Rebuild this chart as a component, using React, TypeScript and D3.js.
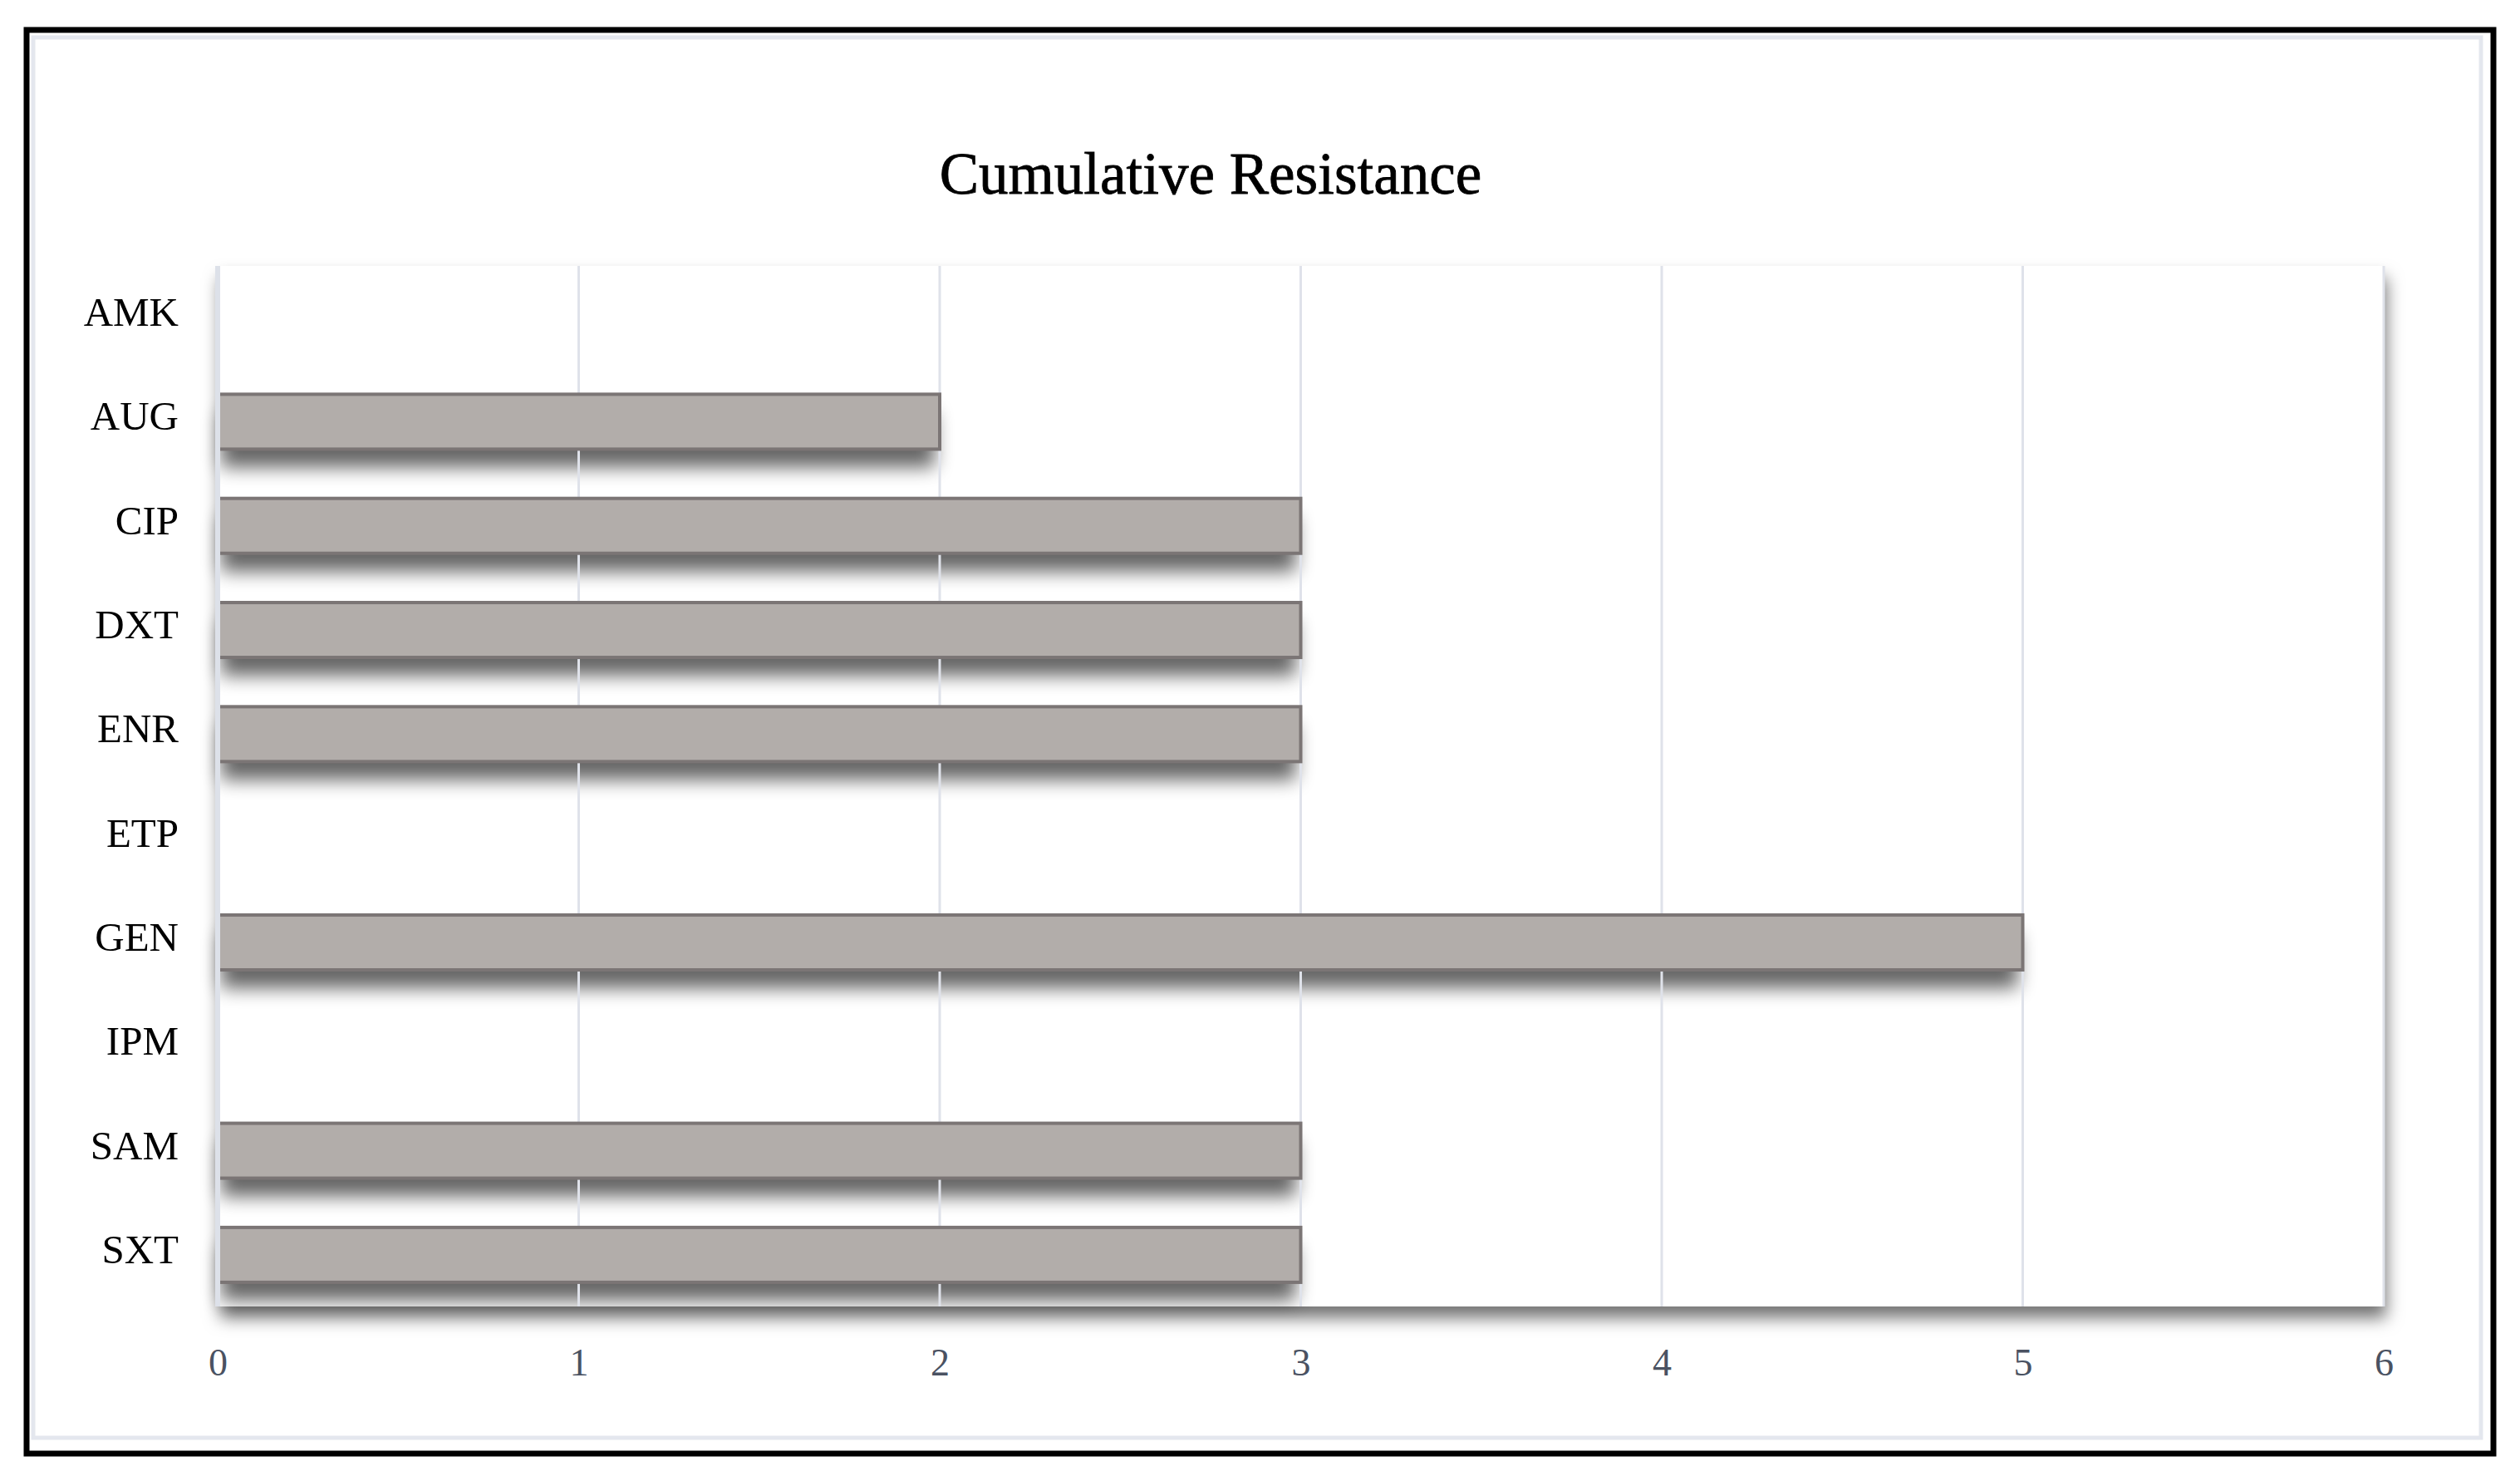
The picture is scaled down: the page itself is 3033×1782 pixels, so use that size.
import * as d3 from "d3";
import { useEffect, useRef } from "react";

const categories = ["AMK", "AUG", "CIP", "DXT", "ENR", "ETP", "GEN", "IPM", "SAM", "SXT"];
const values = [0, 2, 3, 3, 3, 0, 5, 0, 3, 3];
const xTicks = [0, 1, 2, 3, 4, 5, 6];
const title = "Cumulative Resistance";

function App() {
  const ref = useRef<SVGSVGElement>(null);

  useEffect(() => {
    const svg = d3.select(ref.current);
    svg.selectAll("*").remove();

    const W = 3033, H = 1782;
    const left = 262, right = 2869, top = 320, bottom = 1572;

    const x = d3.scaleLinear().domain([0, 6]).range([left, right]);
    const y = d3.scaleBand().domain(categories).range([top, bottom]).paddingInner(0.473).paddingOuter(0.232);

    const defs = svg.append("defs");
    const ps = defs.append("filter").attr("id", "plotShadow")
      .attr("x", "-5%").attr("y", "-5%").attr("width", "110%").attr("height", "115%");
    ps.append("feDropShadow").attr("dx", 3).attr("dy", 14).attr("stdDeviation", 10)
      .attr("flood-color", "#000").attr("flood-opacity", 0.55);
    const bs = defs.append("filter").attr("id", "barBlur")
      .attr("x", "-5%").attr("y", "-80%").attr("width", "110%").attr("height", "260%");
    bs.append("feGaussianBlur").attr("stdDeviation", 11);

    svg.append("rect").attr("width", W).attr("height", H).attr("fill", "#fff");

    // frames
    svg.append("rect").attr("x", 32).attr("y", 36).attr("width", 3001 - 32).attr("height", 1749 - 36)
      .attr("fill", "none").attr("stroke", "#000").attr("stroke-width", 7);
    svg.append("rect").attr("x", 40).attr("y", 45).attr("width", 2986 - 40).attr("height", 1730 - 45)
      .attr("fill", "none").attr("stroke", "#e4e7ee").attr("stroke-width", 5);

    svg.append("text").attr("x", 1457).attr("y", 233).attr("text-anchor", "middle")
      .attr("font-family", "Liberation Serif, serif").attr("font-size", 71).attr("fill", "#000")
      .attr("stroke", "#000").attr("stroke-width", 0.8)
      .text(title);

    // plot area
    svg.append("rect").attr("x", left).attr("y", top).attr("width", right - left).attr("height", bottom - top)
      .attr("fill", "#fff").attr("filter", "url(#plotShadow)");

    const rows = categories.map((c, i) => ({ c, v: values[i] })).filter(d => d.v > 0);

    // bar shadows
    svg.append("g").selectAll("rect").data(rows).join("rect")
      .attr("x", left + 4).attr("y", d => (y(d.c) as number) + 22)
      .attr("width", d => x(d.v) - left - 10).attr("height", y.bandwidth())
      .attr("fill", "#000").attr("opacity", 0.6).attr("filter", "url(#barBlur)");

    // gridlines
    svg.append("g").selectAll("line").data(xTicks.filter(t => t > 0)).join("line")
      .attr("x1", d => x(d)).attr("x2", d => x(d)).attr("y1", top).attr("y2", bottom)
      .attr("stroke", "#dfe2ea").attr("stroke-width", 3);

    // bars
    svg.append("g").selectAll("rect").data(rows).join("rect")
      .attr("x", left).attr("y", d => y(d.c) as number)
      .attr("width", d => x(d.v) - left).attr("height", y.bandwidth())
      .attr("fill", "#b2adaa").attr("stroke", "#7b7575").attr("stroke-width", 4);

    svg.append("line").attr("x1", left).attr("x2", left).attr("y1", top).attr("y2", bottom)
      .attr("stroke", "#dde1e9").attr("stroke-width", 6);

    // x axis
    const xa = svg.append("g").attr("transform", `translate(0,${1655})`)
      .call(d3.axisBottom(x).tickValues(xTicks).tickSize(0).tickPadding(0).tickFormat(d3.format("d")));
    xa.select(".domain").remove();
    xa.selectAll("text").attr("dy", 0).attr("y", 0)
      .attr("font-family", "Liberation Serif, serif").attr("font-size", 46).attr("fill", "#4a5262");

    // y axis
    const ya = svg.append("g").attr("transform", `translate(${215},0)`)
      .call(d3.axisLeft(y).tickSize(0).tickPadding(0));
    ya.select(".domain").remove();
    ya.selectAll("text").attr("dy", 10).attr("x", 0)
      .attr("font-family", "Liberation Serif, serif").attr("font-size", 49).attr("fill", "#000");
  }, []);

  return (
    <svg ref={ref} width={3033} height={1782}
      style={{ position: "absolute", left: 0, top: 0, display: "block" }} />
  );
}

export default App;
